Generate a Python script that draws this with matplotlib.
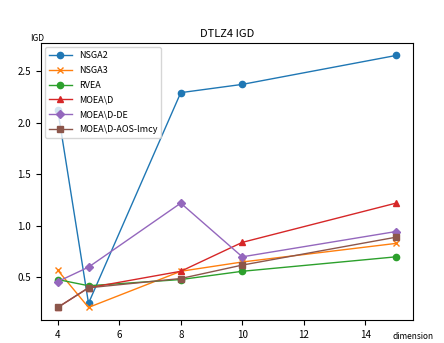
import matplotlib
matplotlib.use("Agg")
import matplotlib.pyplot as plt

plt.rcParams['font.family'] = ['Noto Sans CJK SC', 'DejaVu Sans']

dims = [4, 5, 8, 10, 15]
nsga2 = [2.12, 0.25, 2.29, 2.37, 2.65]
nsga3 = [0.57, 0.21, 0.56, 0.65, 0.83]
rvea = [0.48, 0.42, 0.48, 0.56, 0.70]
moead = [0.21, 0.40, 0.56, 0.84, 1.22]
moead_de = [0.46, 0.60, 1.22, 0.70, 0.945]
moead_aos = [0.21, 0.40, 0.49, 0.62, 0.89]

names = ['NSGA2', 'NSGA3', 'RVEA', 'MOEA\\D', 'MOEA\\D-DE', 'MOEA\\D-AOS-lmcy']
series = [nsga2, nsga3, rvea, moead, moead_de, moead_aos]
markers = ['o', 'x', 'o', '^', 'D', 's']

fig = plt.figure(figsize=(4.44, 3.43), dpi=100)
ax = fig.add_axes([0.092, 0.067, 0.838, 0.808])
for name, ys, m in zip(names, series, markers):
    ax.plot(dims, ys, marker=m, markersize=4.5, linewidth=1, label=name)

ax.set_title('DTLZ4 IGD', fontsize=8, pad=4)
ax.tick_params(labelsize=7)
ax.set_ylabel('IGD', rotation=0, fontsize=6)
ax.yaxis.set_label_coords(-0.01, 1.0)
ax.text(1.0, -0.045, 'dimension', transform=ax.transAxes, fontsize=6, ha='center', va='top')
ax.legend(loc='upper left', fontsize=6.5, handlelength=2.5, labelspacing=0.65)

fig.savefig('out.png', dpi=100)
